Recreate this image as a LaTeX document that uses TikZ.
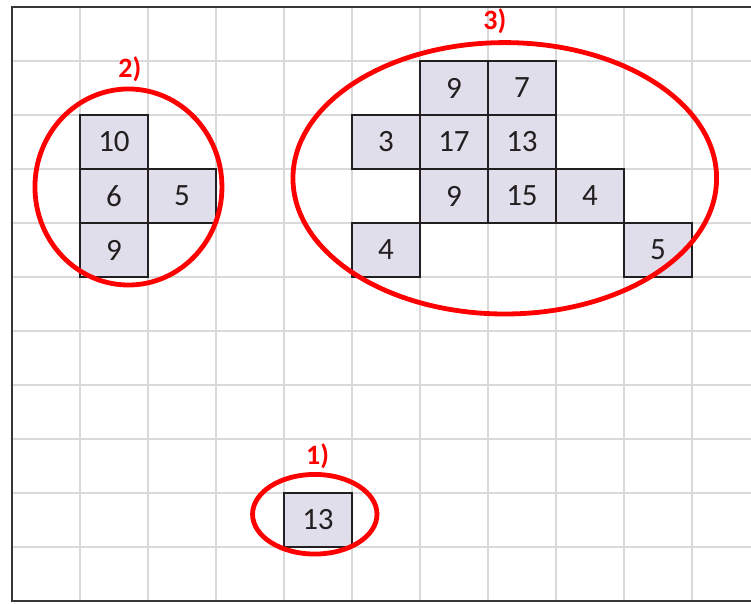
\documentclass[tikz,border=0pt]{standalone}
\usepackage{fontspec}
\setmainfont{Carlito}
\definecolor{cellfill}{RGB}{225,222,236}
\definecolor{gridgray}{RGB}{217,217,217}
\definecolor{ink}{RGB}{35,31,32}

\begin{document}
\begin{tikzpicture}[x=34pt, y=27pt, every node/.style={font=\fontsize{15.5}{18}\selectfont, text=ink}, cell/.style={draw=ink, line width=1.3pt, fill=cellfill, minimum width=34pt, minimum height=27pt, inner sep=0pt}, ring/.style={draw=red, line width=2.4pt}, tag/.style={text=red, font=\fontsize{14}{16}\selectfont\bfseries}]
	\useasboundingbox (-0.176,-0.037) rectangle (10.868,11.13);
	\draw[gridgray, line width=1.1pt, step=1] (0,0) grid (10.868,11);
	\draw[ink!90, line width=1.3pt] (10.868,11) -- (0,11) -- (0,0) -- (10.868,0);
	% 1)
	\node[cell] (a13) at (4.5,1.5) {13};
	% 2)
	\node[cell] (b10) at (1.5,8.5) {10};
	\node[cell] (b6) at (1.5,7.5) {6};
	\node[cell] (b5) at (2.5,7.5) {5};
	\node[cell] (b9) at (1.5,6.5) {9};
	% 3)
	\node[cell] (c9top) at (6.5,9.5) {9};
	\node[cell] (c7) at (7.5,9.5) {7};
	\node[cell] (c3) at (5.5,8.5) {3};
	\node[cell] (c17) at (6.5,8.5) {17};
	\node[cell] (c13) at (7.5,8.5) {13};
	\node[cell] (c9) at (6.5,7.5) {9};
	\node[cell] (c15) at (7.5,7.5) {15};
	\node[cell] (c4mid) at (8.5,7.5) {4};
	\node[cell] (c4) at (5.5,6.5) {4};
	\node[cell] (c5) at (9.5,6.5) {5};
	\draw[ring] (4.453,1.607) ellipse [x radius=0.915, y radius=0.737];
	\draw[ring] (1.713,7.667) ellipse [x radius=1.375, y radius=1.815];
	\draw[ring] (7.247,7.828) ellipse [x radius=3.115, y radius=2.513];
	\node[tag] (t1) at (4.495,2.685) {1)};
	\node[tag] (t2) at (1.735,9.85) {2)};
	\node[tag] (t3) at (7.10,10.73) {3)};
\end{tikzpicture}
\end{document}
